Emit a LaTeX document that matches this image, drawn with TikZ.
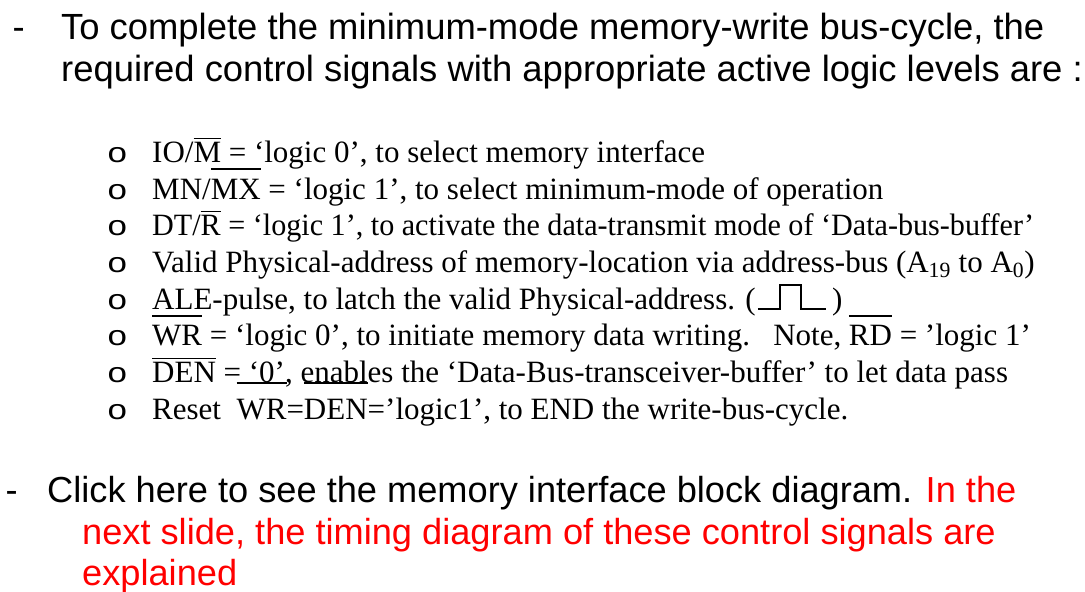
\documentclass[tikz,border=0pt]{standalone}
\usepackage{fontspec}
\usepackage{graphicx}
\setmainfont{Liberation Sans}
\newfontfamily\tnr{Liberation Serif}
\newfontfamily\bul{Liberation Sans}
\definecolor{slidered}{RGB}{255,0,0}
\newcommand\ob[2][2.5pt]{{\setbox0\hbox{#2}\leavevmode\rlap{\raisebox{\dimexpr\ht0+#1\relax}{\rule{\wd0}{1.4pt}}}\box0}}
\tikzset{
  head/.style={anchor=base west, inner sep=0pt, font=\fontsize{36.4}{42}\selectfont},
  foot/.style={anchor=base west, inner sep=0pt, font=\fontsize{36.2}{42}\selectfont},
  item/.style={anchor=base west, inner sep=0pt, font=\tnr\fontsize{31}{36}\selectfont},
  bulletmark/.style={anchor=base west, inner sep=0pt, font=\bul\fontsize{28}{30}\selectfont},
  pulse/.style={line width=1.4pt, line join=miter}
}
\begin{document}
\begin{tikzpicture}[x=1pt,y=1pt]
\useasboundingbox (0,0) rectangle (1085,-592);
% top paragraph
\node[head] (d1) at (12.5,-39) {-};
\node[head] (t1) at (61,-39) {To complete the minimum-mode memory-write bus-cycle, the};
\node[head] (t2) at (61,-81) {required control signals with appropriate active logic levels are :};
% bullets
\foreach \i/\y in {1/162,2/199,3/235,4/272,5/309,6/345,7/382,8/419}{
  \node[bulletmark] (o\i) at (107.5,-\y) {\scalebox{1.25}[1]{o}};
}
\node[item] (l1) at (152,-162) {IO/\ob{M} = ‘logic 0’, to select memory interface};
\node[item] (l2) at (152,-199) {MN/\ob[9pt]{MX} = ‘logic 1’, to select minimum-mode of operation};
\node[item] (l3) at (152,-235) {\scalebox{0.972}[1]{DT/\ob{R} = ‘logic 1’, to activate the data-transmit mode of ‘Data-bus-buffer’}};
\node[item] (l4) at (152,-272) {Valid Physical-address of memory-location via address-bus (A\textsubscript{19} to A\textsubscript{0})};
\node[item] (l5) at (152,-309) {ALE-pulse, to latch the valid Physical-address. (};
\coordinate (p0) at ([xshift=2pt]l5.base east);
\draw[pulse] (p0) -- ++(22,0) -- ++(0,24) -- ++(21,0) -- ++(0,-24) -- ++(25,0) coordinate (p1);
\node[item] (l5b) at ([xshift=6pt]p1) {)};
\node[item] (l6) at (152,-345) {\ob[8pt]{WR} = ‘logic 0’, to initiate memory data writing.\ \ \ Note, \ob[8pt]{RD} = ’logic 1’};
\node[item] (l7) at (152,-382) {\ob{DEN} = ‘0’, enables the ‘Data-Bus-transceiver-buffer’ to let data pass};
\node[item] (l8) at (152,-419) {Reset\ \ \ob[15pt]{WR}=\ob[15pt]{DEN}=’logic1’, to END the write-bus-cycle.};
% bottom paragraph
\node[foot] (d2) at (5.5,-502) {-};
\node[foot] (b1) at (47,-502) {Click here to see the memory interface block diagram. \textcolor{slidered}{In the}};
\node[foot, text=slidered] (b2) at (82,-544) {next slide, the timing diagram of these control signals are};
\node[foot, text=slidered] (b3) at (82,-585) {explained};
\end{tikzpicture}
\end{document}
